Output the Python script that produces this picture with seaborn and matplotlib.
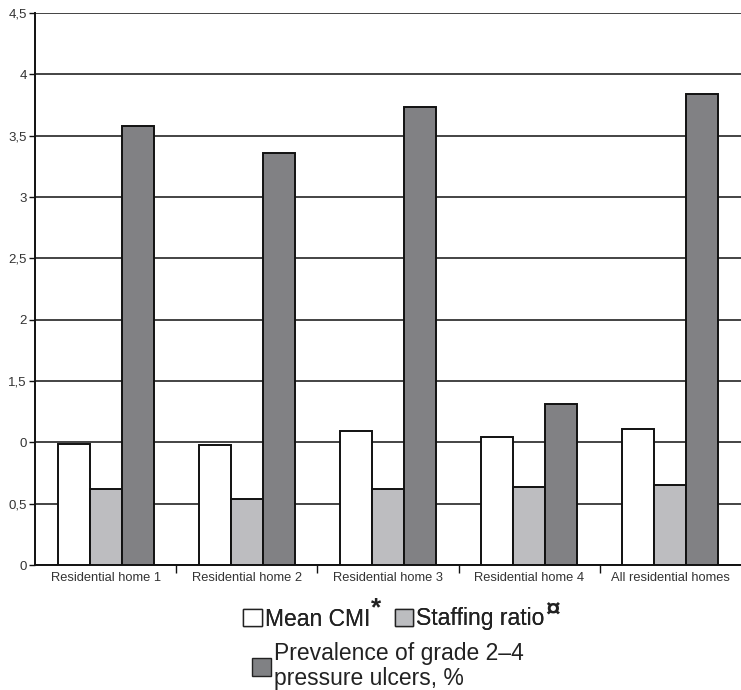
import matplotlib
matplotlib.use("Agg")
import matplotlib.pyplot as plt
from matplotlib.patches import Patch
from matplotlib.ticker import FixedLocator
import seaborn as sns
import pandas as pd

categories = ["Residential home 1", "Residential home 2", "Residential home 3",
              "Residential home 4", "All residential homes"]
mean_cmi = [0.99, 0.98, 1.09, 1.04, 1.11]
staffing_ratio = [0.62, 0.54, 0.62, 0.635, 0.65]
prevalence = [3.58, 3.36, 3.73, 1.31, 3.84]
series_names = ["Mean CMI", "Staffing ratio", "Prevalence"]
ytick_values = [0, 0.5, 1, 1.5, 2, 2.5, 3, 3.5, 4, 4.5]
ytick_labels = ["0", "0,5", "0", "1,5", "2", "2,5", "3", "3,5", "4", "4,5"]

colors = ["#ffffff", "#bcbdc0", "#808184"]

df = pd.DataFrame({
    "category": categories * 3,
    "series": [s for s in series_names for _ in categories],
    "value": mean_cmi + staffing_ratio + prevalence,
})

sns.set_theme(style="white")
plt.rcParams["font.family"] = ["Liberation Sans", "DejaVu Sans"]

W, H = 741, 690
fig = plt.figure(figsize=(W / 100, H / 100), dpi=100)
ax = fig.add_axes([35 / W, 1 - 565 / H, 1 - 35 / W, (565 - 13) / H])

sns.barplot(data=df, x="category", y="value", hue="series", order=categories,
            hue_order=series_names, palette=colors, width=0.68, ax=ax,
            edgecolor="#111111", linewidth=1.4, legend=False, zorder=3)

ax.set_xlim(-0.5, 4.5)
ax.set_ylim(0, 4.5)
ax.set_yticks(ytick_values)
ax.set_yticklabels(ytick_labels, fontsize=9.5, color="#333333")
ax.yaxis.grid(True, color="#111111", linewidth=1.1, zorder=0)
ax.set_axisbelow(True)
ax.set_xlabel("")
ax.set_ylabel("")

ax.tick_params(axis="x", which="major", length=0, labelsize=9.3, pad=5,
               labelcolor="#333333")
ax.xaxis.set_minor_locator(FixedLocator([0.5, 1.5, 2.5, 3.5]))
ax.tick_params(axis="x", which="minor", length=6, width=1, color="#111111",
               direction="out", bottom=True)
ax.tick_params(axis="y", which="major", length=4, width=1, color="#111111",
               direction="out", left=True, pad=2)

for side in ["top", "right"]:
    ax.spines[side].set_visible(False)
for side in ["left", "bottom"]:
    ax.spines[side].set_color("#111111")
    ax.spines[side].set_linewidth(1.4)

# Legend: two keys on the first row, the prevalence key below
legend_font = {"size": 16.5}
text_color = "#222222"
handles_top = [
    Patch(facecolor=colors[0], edgecolor="#222222", linewidth=1.0),
    Patch(facecolor=colors[1], edgecolor="#222222", linewidth=1.0),
]
leg1 = fig.legend(handles_top, ["Mean CMI", "Staffing ratio"], loc="center",
                  bbox_to_anchor=(394 / W, 1 - 619 / H), ncol=2, frameon=False,
                  prop=legend_font, handlelength=0.8, handleheight=0.8,
                  handletextpad=0.15, columnspacing=1.05, borderpad=0,
                  labelcolor=text_color)
fig.add_artist(leg1)
handles_bot = [Patch(facecolor=colors[2], edgecolor="#222222", linewidth=1.0)]
leg2 = fig.legend(handles_bot, ["Prevalence of grade 2\u20134\npressure ulcers, %"],
                  loc="center", bbox_to_anchor=(388 / W, 1 - 666 / H), frameon=False,
                  prop=legend_font, handlelength=0.8, handleheight=0.8,
                  handletextpad=0.15, borderpad=0, labelcolor=text_color)
for t in leg2.get_texts():
    t.set_linespacing(1.1)

# Footnote markers after the first-row labels
fig.canvas.draw()
renderer = fig.canvas.get_renderer()
marks = ["*", "\u00a4"]
mark_sizes = [19, 19]
mark_dy = [11, 9]
for t, mark, size, dy in zip(leg1.get_texts(), marks, mark_sizes, mark_dy):
    bb = t.get_window_extent(renderer)
    fig.text((bb.x1 + 1) / W, (bb.y1 + dy) / H, mark, fontsize=size,
             color=text_color, ha="left", va="top", fontweight="bold")

fig.savefig("out.png", dpi=100)
